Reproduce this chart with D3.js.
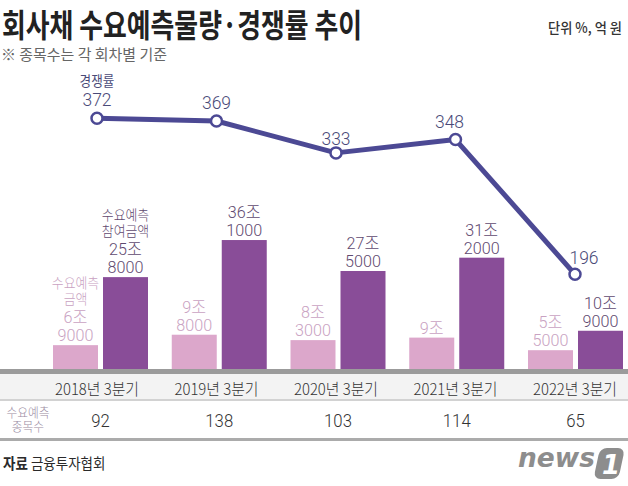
<!DOCTYPE html>
<html><head><meta charset="utf-8">
<script src="https://cdn.jsdelivr.net/npm/d3@7"></script>
<style>
html,body{margin:0;padding:0;background:#fff;}
svg{display:block;font-family:"Noto Sans CJK KR","Noto Sans",sans-serif;}
</style></head>
<body>
<svg id="c" width="628" height="486"></svg>
<script>
const categories = ["2018년 3분기","2019년 3분기","2020년 3분기","2021년 3분기","2022년 3분기"];
const demandAmount = [69000, 98000, 83000, 90000, 55000];      // 수요예측 금액 (억원)
const participationAmount = [258000, 361000, 275000, 312000, 109000]; // 수요예측 참여금액 (억원)
const competitionRate = [372, 369, 333, 348, 196];             // 경쟁률 (%)
const issueCount = [92, 138, 103, 114, 65];                    // 수요예측 종목수
const seriesKeys = ["demand","participation"];
const seriesNames = {demand:["수요예측","금액"], participation:["수요예측","참여금액"]};

const svg = d3.select("#c");
const NUMF = 'Roboto,"Noto Sans CJK KR",sans-serif';

function condense(sel, f){
  sel.each(function(){
    const w = this.getComputedTextLength();
    d3.select(this).attr("textLength", w*f).attr("lengthAdjust","spacingAndGlyphs");
  });
}

// Title
svg.append("text").attr("x",2).attr("y",37).attr("font-size",32).attr("font-weight",700)
  .attr("fill","#222").text("회사채 수요예측물량·경쟁률 추이")
  .attr("textLength",360).attr("lengthAdjust","spacingAndGlyphs");
svg.append("text").attr("x",622).attr("y",33).attr("text-anchor","end").attr("font-size",14)
  .attr("font-weight",500).attr("fill","#333").text("단위 %, 억 원")
  .attr("textLength",74).attr("lengthAdjust","spacingAndGlyphs");
svg.append("text").attr("x",1).attr("y",60).attr("font-size",15)
  .attr("fill","#666").text("※ 종목수는 각 회차별 기준")
  .attr("textLength",166).attr("lengthAdjust","spacingAndGlyphs");

// Scales
const x0 = d3.scaleBand().domain(categories).range([53,623]).paddingInner(0.2).paddingOuter(0);
const x1 = d3.scaleBand().domain(seriesKeys).range([0,x0.bandwidth()]).paddingInner(0.1);
const yBar = d3.scaleLinear().domain([0,400000]).range([370,226]);
const xPt = d3.scalePoint().domain(categories).range([97,575]);
const yLine = d3.scaleLinear().domain([0,400]).range([448,93.5]);
const colors = {demand:"#dca7cb", participation:"#894d98"};
const labelColors = {demand:"#c9a2c2", participation:"#5f4a70"};

const barData = categories.map((c,i)=>({cat:c, i, demand:demandAmount[i], participation:participationAmount[i]}));

// Bars
const g = svg.append("g");
const groups = g.selectAll("g.grp").data(barData).join("g").attr("class","grp")
  .attr("transform",d=>`translate(${x0(d.cat)},0)`);
groups.selectAll("rect").data(d=>seriesKeys.map(k=>({k, v:d[k], i:d.i}))).join("rect")
  .attr("x",d=>x1(d.k)).attr("width",x1.bandwidth())
  .attr("y",d=>yBar(d.v)).attr("height",d=>yBar(0)-yBar(d.v))
  .attr("fill",d=>colors[d.k]);

function fmt(v){
  const jo = Math.floor(v/10000), rest = v%10000;
  return rest ? [jo+"조", String(rest)] : [jo+"조"];
}
// Bar labels: one text element per bar, lines as tspans
groups.each(function(d){
  const gg = d3.select(this);
  seriesKeys.forEach(k=>{
    const lines = fmt(d[k]);
    const cx = x1(k)+x1.bandwidth()/2;
    const top = yBar(d[k]);
    const items = [];
    lines.slice().reverse().forEach((t,j)=>items.push({t, y:top-4-j*18, num:true}));
    if(d.i===0){
      const base = top-4-lines.length*18;
      seriesNames[k].slice().reverse().forEach((t,j)=>items.push({t, y:base-1-j*16, num:false}));
    }
    items.reverse();
    const txt = gg.append("text").attr("text-anchor","middle").attr("fill",labelColors[k])
      .attr("font-weight",300);
    items.forEach(it=>{
      const ts = txt.append("tspan").attr("x",cx).attr("y",it.y).text(it.t);
      if(it.num) ts.attr("font-family",NUMF).attr("font-size",17);
      else ts.attr("font-size",14);
      ts.call(condense, it.num?0.95:0.92);
    });
  });
});

// Baseline band & table
svg.append("rect").attr("x",0).attr("y",369).attr("width",628).attr("height",5).attr("fill","#9b9b9b");
svg.append("rect").attr("x",0).attr("y",374).attr("width",628).attr("height",25).attr("fill","#f3f3f3");
svg.append("rect").attr("x",0).attr("y",399).attr("width",628).attr("height",2).attr("fill","#d2d2d2");
svg.append("rect").attr("x",0).attr("y",438).attr("width",628).attr("height",3).attr("fill","#ababab");

svg.append("g").selectAll("text").data(categories).join("text")
  .attr("x",d=>xPt(d)).attr("y",395).attr("text-anchor","middle").attr("font-size",16)
  .attr("font-weight",300).attr("fill","#333").text(d=>d)
  .attr("textLength",84).attr("lengthAdjust","spacingAndGlyphs");

svg.append("g").selectAll("text").data(issueCount).join("text")
  .attr("x",(d,i)=>x0(categories[i])+x0.bandwidth()/2).attr("y",427).attr("text-anchor","middle")
  .attr("font-family",NUMF).attr("font-size",19).attr("font-weight",300).attr("fill","#333")
  .text(d=>d).call(condense,0.88);

const rowLabel = svg.append("text").attr("text-anchor","middle").attr("font-size",13)
  .attr("font-weight",300).attr("fill","#9a8ba2");
["수요예측","종목수"].forEach((t,j)=>{
  rowLabel.append("tspan").attr("x",28).attr("y",417+j*14).text(t).call(condense,0.9);
});

// Line
const lineData = categories.map((c,i)=>({cat:c, v:competitionRate[i], i}));
const line = d3.line().x(d=>xPt(d.cat)).y(d=>yLine(d.v));
svg.append("path").datum(lineData).attr("d",line).attr("fill","none")
  .attr("stroke","#4c4994").attr("stroke-width",5).attr("stroke-linejoin","round");
svg.append("g").selectAll("circle").data(lineData).join("circle")
  .attr("cx",d=>xPt(d.cat)).attr("cy",d=>yLine(d.v)).attr("r",5.5)
  .attr("fill","#fff").attr("stroke","#4c4994").attr("stroke-width",2.5);
const lbl = svg.append("g").selectAll("text").data(lineData).join("text")
  .attr("text-anchor","middle").attr("fill","#4a4a78");
lbl.filter(d=>d.i===0).append("tspan")
  .attr("x",d=>xPt(d.cat)).attr("y",d=>yLine(d.v)-32)
  .attr("font-size",14).attr("font-weight",400).text("경쟁률").call(condense,0.9);
lbl.append("tspan")
  .attr("x",d=> d.i===4 ? xPt(d.cat)+9 : xPt(d.cat)+(d.i===3?-6:0))
  .attr("y",d=> d.i===4 ? yLine(d.v)-10 : yLine(d.v)-(d.i===2?8:12))
  .attr("font-family",NUMF).attr("font-size",19).attr("font-weight",300)
  .text(d=>d.v).call(condense,0.92);

// Source
const src = svg.append("text").attr("x",3).attr("y",469).attr("font-size",15).attr("fill","#2a2a2a");
src.append("tspan").attr("font-weight",700).text("자료 ");
src.append("tspan").attr("font-weight",400).text("금융투자협회");
src.call(condense,0.9);

// news1 logo
const logo = svg.append("g");
logo.append("text").attr("x",518).attr("y",467).attr("font-size",26).attr("font-weight",900)
  .attr("font-style","italic").attr("fill","#8d8d8d").attr("font-family",'"DejaVu Sans",sans-serif')
  .text("news").attr("textLength",77).attr("lengthAdjust","spacingAndGlyphs");
logo.append("rect").attr("x",0).attr("y",0).attr("width",25).attr("height",31).attr("rx",7)
  .attr("fill","#8d8d8d").attr("transform","translate(600,448) skewX(-12)");
logo.append("text").attr("x",611).attr("y",474).attr("text-anchor","middle").attr("font-size",26)
  .attr("font-weight",900).attr("font-style","italic").attr("fill","#fff")
  .attr("font-family",'"DejaVu Sans",sans-serif').text("1");
</script>
</body></html>
